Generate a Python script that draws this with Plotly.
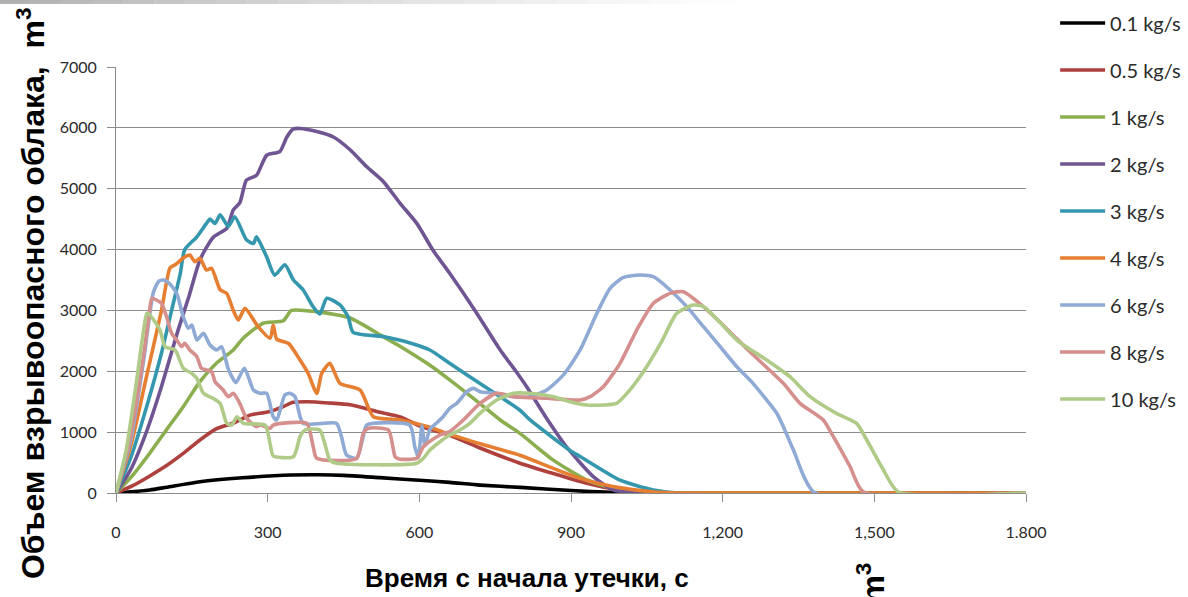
import plotly.graph_objects as go

# Leak-rate series: time since leak start (s) and explosive cloud volume (m3)
t_01 = [0, 30, 67, 100, 166, 250, 347, 400, 450, 522, 600, 660, 720, 800, 900, 980, 1050, 1800]
v_01 = [0, 20, 50, 95, 186, 250, 296, 300, 290, 252, 210, 175, 130, 92, 40, 10, 0, 0]

t_05 = [0, 33, 67, 100, 133, 166, 200, 233, 265, 300, 331, 350, 380, 420, 463, 520, 562, 601, 660, 720, 799, 865, 931, 997, 1060, 1800]
v_05 = [0, 120, 280, 450, 650, 870, 1060, 1150, 1280, 1330, 1420, 1490, 1500, 1480, 1450, 1330, 1250, 1100, 950, 740, 490, 320, 160, 50, 0, 0]

t_1 = [0, 34, 67, 100, 133, 166, 199, 232, 252, 291, 331, 347, 397, 463, 522, 560, 595, 621, 660, 720, 760, 799, 865, 931, 997, 1050, 1090, 1800]
v_1 = [0, 300, 657, 1040, 1418, 1830, 2136, 2350, 2547, 2790, 2830, 3000, 2980, 2875, 2600, 2420, 2240, 2100, 1860, 1470, 1200, 980, 540, 214, 50, 5, 0, 0]

t_2 = [0, 30, 60, 90, 123, 145, 166, 192, 219, 232, 245, 258, 278, 298, 324, 338, 350, 364, 397, 430, 463, 496, 529, 562, 595, 627, 660, 710, 760, 791, 812, 850, 891, 944, 984, 1050, 1800]
v_2 = [0, 400, 1000, 1750, 2680, 3250, 3830, 4200, 4350, 4650, 4770, 5140, 5220, 5550, 5610, 5850, 5980, 5990, 5940, 5850, 5640, 5360, 5115, 4760, 4430, 3990, 3610, 3000, 2350, 2000, 1750, 1250, 760, 270, 50, 0, 0]

t_3 = [0, 30, 60, 90, 110, 127, 136, 160, 179, 186, 196, 206, 222, 235, 258, 272, 278, 298, 314, 334, 351, 370, 390, 403, 417, 443, 459, 469, 528, 580, 621, 660, 720, 799, 819, 898, 918, 997, 1063, 1110, 1800]
v_3 = [0, 600, 1400, 2300, 3000, 3600, 4000, 4210, 4430, 4500, 4430, 4570, 4380, 4540, 4160, 4100, 4210, 3880, 3580, 3750, 3500, 3340, 3060, 2940, 3200, 3090, 2900, 2640, 2570, 2470, 2350, 2130, 1800, 1360, 1200, 700, 600, 210, 50, 0, 0]

t_4 = [0, 30, 60, 90, 107, 117, 136, 146, 156, 166, 179, 189, 206, 219, 232, 242, 255, 281, 305, 311, 318, 341, 364, 380, 397, 407, 423, 443, 483, 509, 562, 621, 647, 720, 799, 860, 918, 980, 1060, 1115, 1800]
v_4 = [0, 800, 1900, 3000, 3700, 3750, 3880, 3910, 3800, 3856, 3664, 3692, 3340, 3281, 3000, 2843, 3035, 2733, 2542, 2760, 2525, 2460, 2185, 1967, 1638, 1967, 2131, 1802, 1692, 1254, 1200, 1080, 1000, 810, 620, 420, 240, 110, 20, 0, 0]

t_6 = [0, 30, 55, 74, 85, 94, 105, 120, 133, 143, 150, 160, 173, 186, 199, 209, 222, 237, 254, 272, 285, 298, 311, 318, 334, 344, 354, 370, 436, 446, 456, 476, 489, 496, 581, 591, 598, 605, 611, 621, 634, 647, 660, 674, 694, 707, 720, 753, 786, 819, 852, 885, 918, 951, 977, 1003, 1036, 1063, 1096, 1129, 1162, 1195, 1228, 1257, 1307, 1320, 1340, 1382, 1800]
v_6 = [0, 900, 2200, 3300, 3480, 3500, 3450, 3281, 2897, 2706, 2760, 2514, 2624, 2432, 2350, 2404, 2040, 1815, 2050, 1692, 1638, 1640, 1254, 1200, 1610, 1638, 1583, 1145, 1145, 925, 624, 570, 925, 1117, 1117, 761, 580, 1100, 780, 1050, 1150, 1254, 1391, 1473, 1665, 1720, 1665, 1638, 1583, 1583, 1692, 1940, 2350, 2950, 3360, 3540, 3582, 3554, 3336, 3062, 2733, 2404, 2075, 1830, 1309, 1090, 707, 5, 0]

t_8 = [0, 25, 50, 65, 71, 80, 90, 100, 110, 120, 130, 136, 146, 160, 169, 189, 196, 212, 222, 232, 245, 258, 278, 285, 305, 311, 377, 390, 397, 476, 489, 499, 539, 552, 560, 595, 608, 621, 641, 660, 687, 720, 753, 786, 852, 918, 938, 964, 997, 1030, 1063, 1096, 1122, 1162, 1208, 1254, 1320, 1353, 1399, 1419, 1452, 1478, 1800]
v_8 = [0, 800, 2000, 2900, 3200, 3171, 3117, 2897, 2624, 2514, 2404, 2460, 2350, 2240, 2049, 1993, 1829, 1692, 1583, 1638, 1470, 1230, 1090, 1117, 1063, 1117, 1145, 761, 570, 570, 981, 1063, 1035, 597, 560, 570, 761, 850, 953, 1010, 1200, 1473, 1638, 1583, 1556, 1528, 1583, 1747, 2131, 2678, 3117, 3281, 3308, 3062, 2700, 2320, 1802, 1473, 1200, 925, 432, 21, 0]

t_10 = [0, 20, 40, 55, 61, 67, 87, 97, 117, 133, 150, 160, 173, 192, 206, 219, 229, 239, 252, 295, 305, 311, 351, 364, 374, 403, 423, 436, 595, 608, 621, 641, 660, 674, 700, 720, 753, 786, 819, 865, 898, 931, 964, 990, 1017, 1050, 1080, 1109, 1142, 1162, 1195, 1228, 1287, 1333, 1373, 1425, 1465, 1485, 1518, 1547, 1800]
v_10 = [0, 700, 1800, 2700, 2950, 2925, 2678, 2404, 2350, 2050, 1967, 1880, 1638, 1556, 1473, 1145, 1117, 1254, 1145, 1117, 800, 610, 597, 925, 1035, 1035, 542, 488, 488, 570, 707, 843, 953, 1008, 1145, 1309, 1528, 1638, 1638, 1583, 1500, 1446, 1446, 1473, 1700, 2080, 2500, 2952, 3089, 3062, 2800, 2514, 2185, 1911, 1583, 1309, 1145, 871, 378, 21, 0]

series_names = ["0.1 kg/s", "0.5 kg/s", "1 kg/s", "2 kg/s", "3 kg/s",
                "4 kg/s", "6 kg/s", "8 kg/s", "10 kg/s"]
series_t = [t_01, t_05, t_1, t_2, t_3, t_4, t_6, t_8, t_10]
series_v = [v_01, v_05, v_1, v_2, v_3, v_4, v_6, v_8, v_10]
series_colors = ["#000000", "#AE413E", "#8BAE4F", "#6F5592", "#3497AE",
                 "#E67F32", "#8FAAD5", "#D58F8D", "#B0CB88"]

x_ticks = [0, 300, 600, 900, 1200, 1500, 1800]
x_tick_text = ["0", "300", "600", "900", "1,200", "1,500", "1.800"]

fig = go.Figure()
for name, t, v, col in zip(series_names, series_t, series_v, series_colors):
    fig.add_trace(go.Scatter(
        x=t, y=v, name=name, mode="lines", legendgroup=name,
        line=dict(color=col, width=3.6, shape="spline", smoothing=0.6),
    ))

# faint grey band along the top edge, fading to the right
n_band = 24
for i in range(n_band):
    fig.add_shape(type="rect", xref="paper", yref="paper",
                  x0=-0.1275 + i * 0.034, x1=-0.1275 + (i + 1) * 0.034,
                  y0=1.148, y1=1.16, line_width=0,
                  fillcolor="rgba(150,150,150,%.3f)" % (0.75 * (1 - i / n_band) ** 1.3),
                  layer="below")

tick_font = dict(family="Lato, Calibri, sans-serif", size=16, color="#2a2a2a")

fig.update_layout(
    width=1188, height=597,
    margin=dict(l=116, r=162, t=67, b=104, autoexpand=False),
    plot_bgcolor="white", paper_bgcolor="white",
    showlegend=True,
    legend=dict(x=1.032, y=1.149, xanchor="left", yanchor="top",
                font=dict(family="Lato, Calibri, sans-serif", size=20, color="#2a2a2a"),
                tracegroupgap=18, itemwidth=45, maxheight=590,
                bgcolor="rgba(0,0,0,0)"),
    xaxis=dict(range=[0, 1800], tickvals=x_ticks, ticktext=x_tick_text,
               showgrid=False, zeroline=False, showline=True, linecolor="#8c8c8c",
               linewidth=1, ticks="outside", ticklen=8, tickcolor="#8c8c8c",
               tickfont=tick_font, ticklabelstandoff=17),
    yaxis=dict(range=[0, 7000], dtick=1000, showgrid=True, gridcolor="#8c8c8c",
               gridwidth=1, zeroline=False, showline=True, linecolor="#8c8c8c",
               linewidth=1, ticks="outside", ticklen=8, tickcolor="#8c8c8c",
               tickfont=tick_font, ticklabelstandoff=7),
)

fig.add_annotation(text="<b>Время с начала утечки, с</b>", xref="paper", yref="paper",
                   x=0.4516, y=-0.2, xanchor="center", yanchor="middle",
                   showarrow=False,
                   font=dict(family="Liberation Sans, Arial, sans-serif", size=26, color="black"))
title_font = dict(family="Liberation Sans, Arial, sans-serif", size=32, color="black")
fig.add_annotation(text="<b>Объем взрывоопасного облака,  m<sup>3</sup></b>",
                   xref="paper", yref="paper", x=-0.094, y=0.468,
                   xanchor="center", yanchor="middle", textangle=-90,
                   showarrow=False, font=title_font)
fig.add_annotation(text="<b>m<sup>3</sup></b>", xref="paper", yref="paper",
                   x=0.830, y=-0.212, xanchor="center", yanchor="middle",
                   textangle=-90, showarrow=False, font=title_font)

fig.write_html("out.html")
